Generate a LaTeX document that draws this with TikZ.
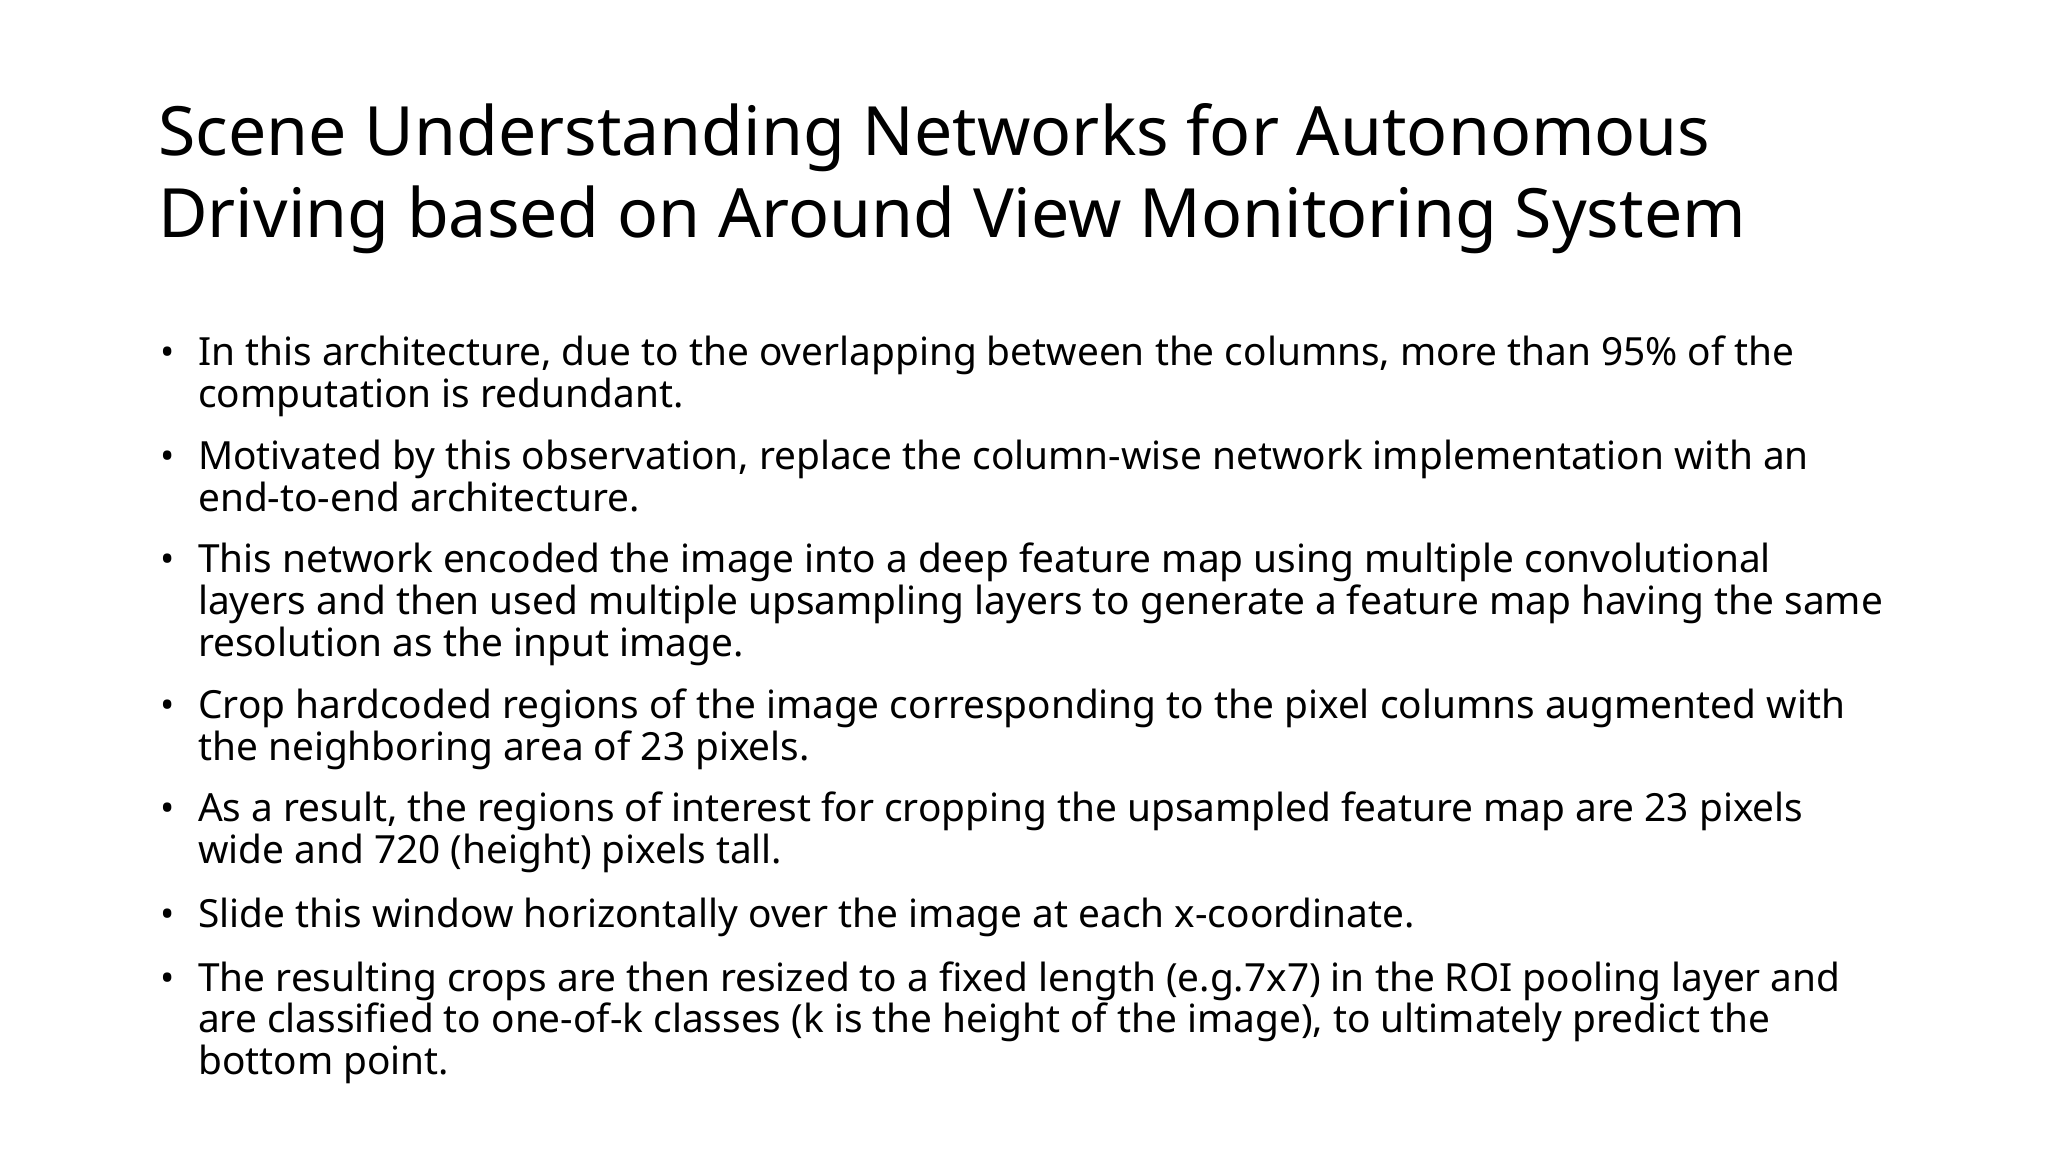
\documentclass[tikz,border=0pt]{standalone}
\usepackage{fontspec}
\setmainfont{Noto Sans}
\begin{document}
\begin{tikzpicture}[x=1pt,y=1pt,
  ttl/.style={anchor=base west,inner sep=0pt,font=\fontsize{68}{82}\selectfont},
  body/.style={anchor=base west,inner sep=0pt,font=\fontsize{38.8}{41}\selectfont},
  blt/.style={anchor=base west,inner sep=0pt,font=\fontsize{38}{41}\selectfont}]
\useasboundingbox[fill=white] (0,0) rectangle (2048,1152);
\node[ttl] (t1) at (158,1152-156) {Scene Understanding Networks for Autonomous};
\node[ttl] (t2) at (158,1152-238) {Driving based on Around View Monitoring System};
\foreach \n/\y/\txt in {
 1/366/{In this architecture, due to the overlapping between the columns, more than 95\% of the\\computation is redundant.},
 2/470/{Motivated by this observation, replace the column-wise network implementation with an\\end-to-end architecture.},
 3/573/{This network encoded the image into a deep feature map using multiple convolutional\\layers and then used multiple upsampling layers to generate a feature map having the same\\resolution as the input image.},
 4/719/{Crop hardcoded regions of the image corresponding to the pixel columns augmented with\\the neighboring area of 23 pixels.},
 5/822/{As a result, the regions of interest for cropping the upsampled feature map are 23 pixels\\wide and 720 (height) pixels tall.},
 6/927/{Slide this window horizontally over the image at each x-coordinate.},
 7/991/{The resulting crops are then resized to a fixed length (e.g.7x7) in the ROI pooling layer and\\are classified to one-of-k classes (k is the height of the image), to ultimately predict the\\bottom point.}}{
 \node[blt] (b\n) at (160,1152-\y) {•};
 \node[body] (p\n) at (198,1152-\y) {\begin{tabular}[t]{@{}l@{}}\txt\end{tabular}};
}
\end{tikzpicture}
\end{document}
